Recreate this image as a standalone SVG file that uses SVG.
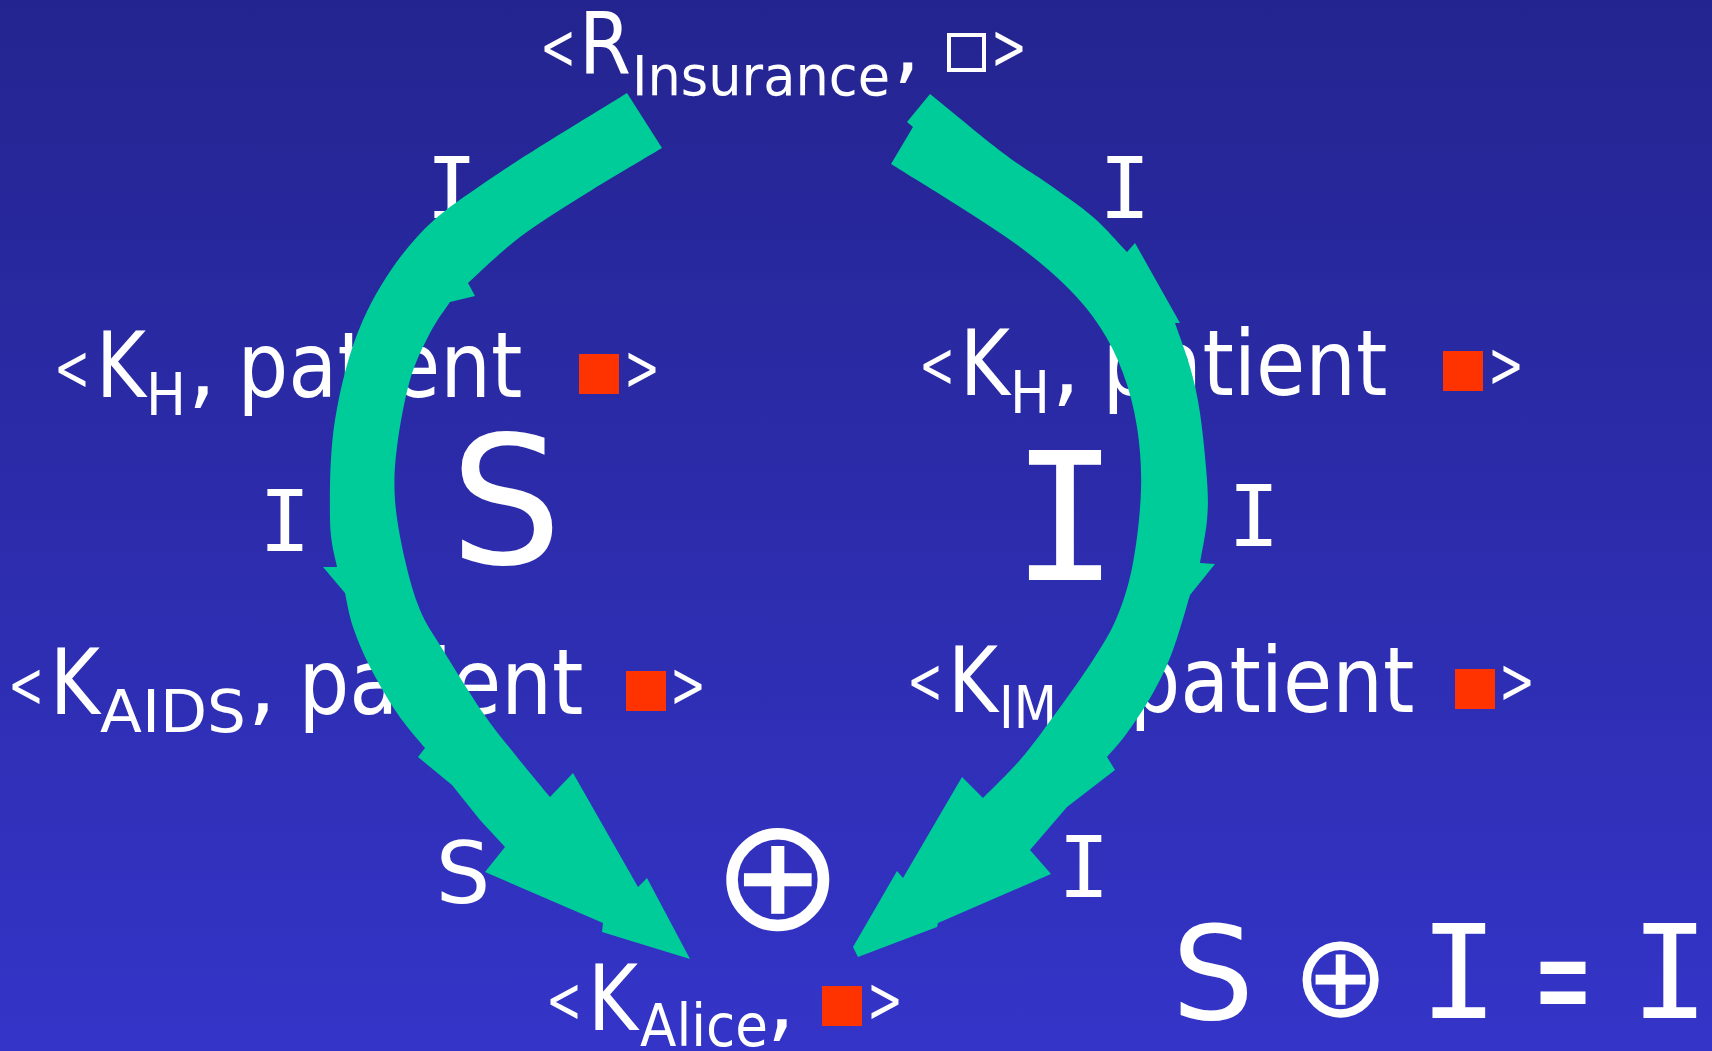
<svg xmlns="http://www.w3.org/2000/svg" width="1712" height="1051" viewBox="0 0 1712 1051">
<defs>
<linearGradient id="bg" x1="0" y1="0" x2="0" y2="1">
<stop offset="0" stop-color="#242490"/>
<stop offset="1" stop-color="#3434C8"/>
</linearGradient>
</defs>
<style>
text{fill:#fff;font-family:"DejaVu Sans",sans-serif;text-anchor:middle}
.m{font-size:90px}
.t{font-size:86px}
.s{font-size:59px}
.br{font-size:64px}
.mono{font-family:"DejaVu Sans Mono",monospace}
.op{font-weight:200}
.sq{fill:#FF3300}
.arrow{fill:#00CC99}
</style>
<rect width="1712" height="1051" fill="url(#bg)"/>

<g id="node-insurance">
<text class="t"><tspan class="br" x="558" y="69" textLength="36" lengthAdjust="spacingAndGlyphs">&lt;</tspan><tspan x="605" y="73" textLength="52" lengthAdjust="spacingAndGlyphs">R</tspan><tspan style="font-size:55px" x="761" y="95" textLength="258" lengthAdjust="spacingAndGlyphs">Insurance</tspan><tspan x="907" y="73">,</tspan><tspan class="br" x="1009" y="69" textLength="36" lengthAdjust="spacingAndGlyphs">&gt;</tspan></text>
<rect x="949" y="35" width="35" height="35" fill="none" stroke="#fff" stroke-width="4"/>
</g>

<g id="node-kh-left">
<text class="m"><tspan class="br" x="72" y="390" textLength="36" lengthAdjust="spacingAndGlyphs">&lt;</tspan><tspan x="121" y="397" textLength="50" lengthAdjust="spacingAndGlyphs">K</tspan><tspan class="s" x="166" y="415" textLength="40" lengthAdjust="spacingAndGlyphs">H</tspan><tspan x="202" y="397">,</tspan><tspan x="380" y="397" textLength="285" lengthAdjust="spacingAndGlyphs">patient</tspan><tspan class="br" x="642" y="390" textLength="36" lengthAdjust="spacingAndGlyphs">&gt;</tspan></text>
<rect class="sq" x="579" y="354" width="40" height="40"/>
</g>

<g id="node-kh-right">
<text class="m"><tspan class="br" x="937" y="387" textLength="36" lengthAdjust="spacingAndGlyphs">&lt;</tspan><tspan x="985" y="395" textLength="50" lengthAdjust="spacingAndGlyphs">K</tspan><tspan class="s" x="1030" y="413" textLength="40" lengthAdjust="spacingAndGlyphs">H</tspan><tspan x="1066" y="395">,</tspan><tspan x="1245" y="395" textLength="285" lengthAdjust="spacingAndGlyphs">patient</tspan><tspan class="br" x="1506" y="387" textLength="36" lengthAdjust="spacingAndGlyphs">&gt;</tspan></text>
<rect class="sq" x="1443" y="351" width="40" height="40"/>
</g>

<g id="node-kaids">
<text class="m"><tspan class="br" x="26" y="707" textLength="36" lengthAdjust="spacingAndGlyphs">&lt;</tspan><tspan x="75" y="714" textLength="50" lengthAdjust="spacingAndGlyphs">K</tspan><tspan class="s" x="173" y="732" textLength="146" lengthAdjust="spacingAndGlyphs">AIDS</tspan><tspan x="262" y="714">,</tspan><tspan x="441" y="714" textLength="285" lengthAdjust="spacingAndGlyphs">patient</tspan><tspan class="br" x="688" y="707" textLength="36" lengthAdjust="spacingAndGlyphs">&gt;</tspan></text>
<rect class="sq" x="626" y="671" width="40" height="40"/>
</g>

<g id="node-kim">
<text class="m"><tspan class="br" x="925" y="703" textLength="36" lengthAdjust="spacingAndGlyphs">&lt;</tspan><tspan x="973" y="712" textLength="50" lengthAdjust="spacingAndGlyphs">K</tspan><tspan class="s" x="1028" y="728" textLength="58" lengthAdjust="spacingAndGlyphs">IM</tspan><tspan x="1072" y="712">,</tspan><tspan x="1272" y="712" textLength="285" lengthAdjust="spacingAndGlyphs">patient</tspan><tspan class="br" x="1517" y="703" textLength="36" lengthAdjust="spacingAndGlyphs">&gt;</tspan></text>
<rect class="sq" x="1455" y="669" width="40" height="40"/>
</g>

<g id="node-alice">
<text class="m"><tspan class="br" x="564" y="1022" textLength="36" lengthAdjust="spacingAndGlyphs">&lt;</tspan><tspan x="613" y="1030" textLength="50" lengthAdjust="spacingAndGlyphs">K</tspan><tspan class="s" x="704" y="1046" textLength="128" lengthAdjust="spacingAndGlyphs">Alice</tspan><tspan x="781" y="1030">,</tspan><tspan class="br" x="885" y="1022" textLength="36" lengthAdjust="spacingAndGlyphs">&gt;</tspan></text>
<rect class="sq" x="822" y="986" width="40" height="40"/>
</g>

<g id="labels">
<text class="t mono" x="452" y="218">I</text>
<text class="t mono" x="1125" y="218">I</text>
<text class="t mono" x="285" y="551">I</text>
<text class="t mono" x="1254" y="546">I</text>
<text class="t mono" x="1084" y="897">I</text>
<text class="t" x="463" y="903">S</text>
<text style="font-size:178px" x="506" y="563" textLength="112" lengthAdjust="spacingAndGlyphs">S</text>
<text class="mono" style="font-size:178px" x="1065" y="580">I</text>
<text class="op" style="font-size:157px" x="778" y="929">⊕</text>
</g>

<g id="equation">
<text style="font-size:130px"><tspan x="1213" y="1019">S</tspan><tspan class="op" style="font-size:116px" x="1340" y="1016">⊕</tspan><tspan class="mono" x="1459" y="1018">I</tspan><tspan style="font-size:150px" x="1563" y="1030" textLength="60" lengthAdjust="spacingAndGlyphs">=</tspan><tspan class="mono" x="1670" y="1018">I</tspan></text>
</g>

<g id="connectors">
<path class="arrow" d="M627,93 C604.7,107 528,153 493,177 C458,201 438.7,213.2 417,237 C395.3,260.8 376.7,289.5 363,320 C349.3,350.5 340.5,386.7 335,420 C329.5,453.3 329.7,495.5 330,520 C330.3,544.5 335.8,559.2 337,567 L323,567 L345,593 C346.3,598.7 348.8,614.7 353,627 C357.2,639.3 362.7,652.7 370,667 C377.3,681.3 387.8,699.5 397,713 C406.2,726.5 420.3,742.2 425,748 L418,757 L452,785 L480,820 L505,847 L485,872 L603,923 L602,932 L690,959 L647,878 L638,887 L573,773 L550,797 C544.5,790.3 528.2,771 517,757 C505.8,743 495.3,730.8 483,713 C470.7,695.2 453.5,667.2 443,650 C432.5,632.8 426.3,625 420,610 C413.7,595 409.2,578.3 405,560 C400.8,541.7 396.3,518.8 395,500 C393.7,481.2 394.5,467 397,447 C399.5,427 404.5,399 410,380 C415.5,361 423.3,346 430,333 C436.7,320 446.7,307.2 450,302 L475,296 L468,283 C476.7,275.3 500.2,252 520,237 C539.8,222 563.3,207.8 587,193 C610.7,178.2 649.5,155.5 662,148 Z"/>
<path class="arrow" d="M930,94 C942.2,103.8 983.5,138.2 1003,153 C1022.5,167.8 1032,172.3 1047,183 C1062,193.7 1079.7,205.5 1093,217 C1106.3,228.5 1121.3,246.2 1127,252 L1135,243 L1180,323 L1175,323 C1177.5,330.3 1185.8,352 1190,367 C1194.2,382 1197.2,394.2 1200,413 C1202.8,431.8 1205.8,462.2 1207,480 C1208.2,497.8 1208.2,506.2 1207,520 C1205.8,533.8 1201.2,555.8 1200,563 L1215,564 L1190,595 C1187.2,604.2 1179.2,633.7 1173,650 C1166.8,666.3 1160.7,679.2 1153,693 C1145.3,706.8 1134.7,722.3 1127,733 C1119.3,743.7 1110.3,753 1107,757 L1115,770 L1067,807 L1030,850 L1051,874 L938,923 L937,927 L858,957 L853,947 L897,871 L903,878 L962,777 L983,798 C989.2,791.7 1008.3,773.5 1020,760 C1031.7,746.5 1040.8,733.7 1053,717 C1065.2,700.3 1082.3,676.7 1093,660 C1103.7,643.3 1110.3,633.2 1117,617 C1123.7,600.8 1129,584.2 1133,563 C1137,541.8 1140.3,512.7 1141,490 C1141.7,467.3 1140,446.5 1137,427 C1134,407.5 1129.2,389.7 1123,373 C1116.8,356.3 1109.3,341.3 1100,327 C1090.7,312.7 1080.3,300.3 1067,287 C1053.7,273.7 1037.8,260.3 1020,247 C1002.2,233.7 981.5,220.8 960,207 C938.5,193.2 902.5,171.2 891,164 L913,127 L907,122 Z"/>
</g>
</svg>
